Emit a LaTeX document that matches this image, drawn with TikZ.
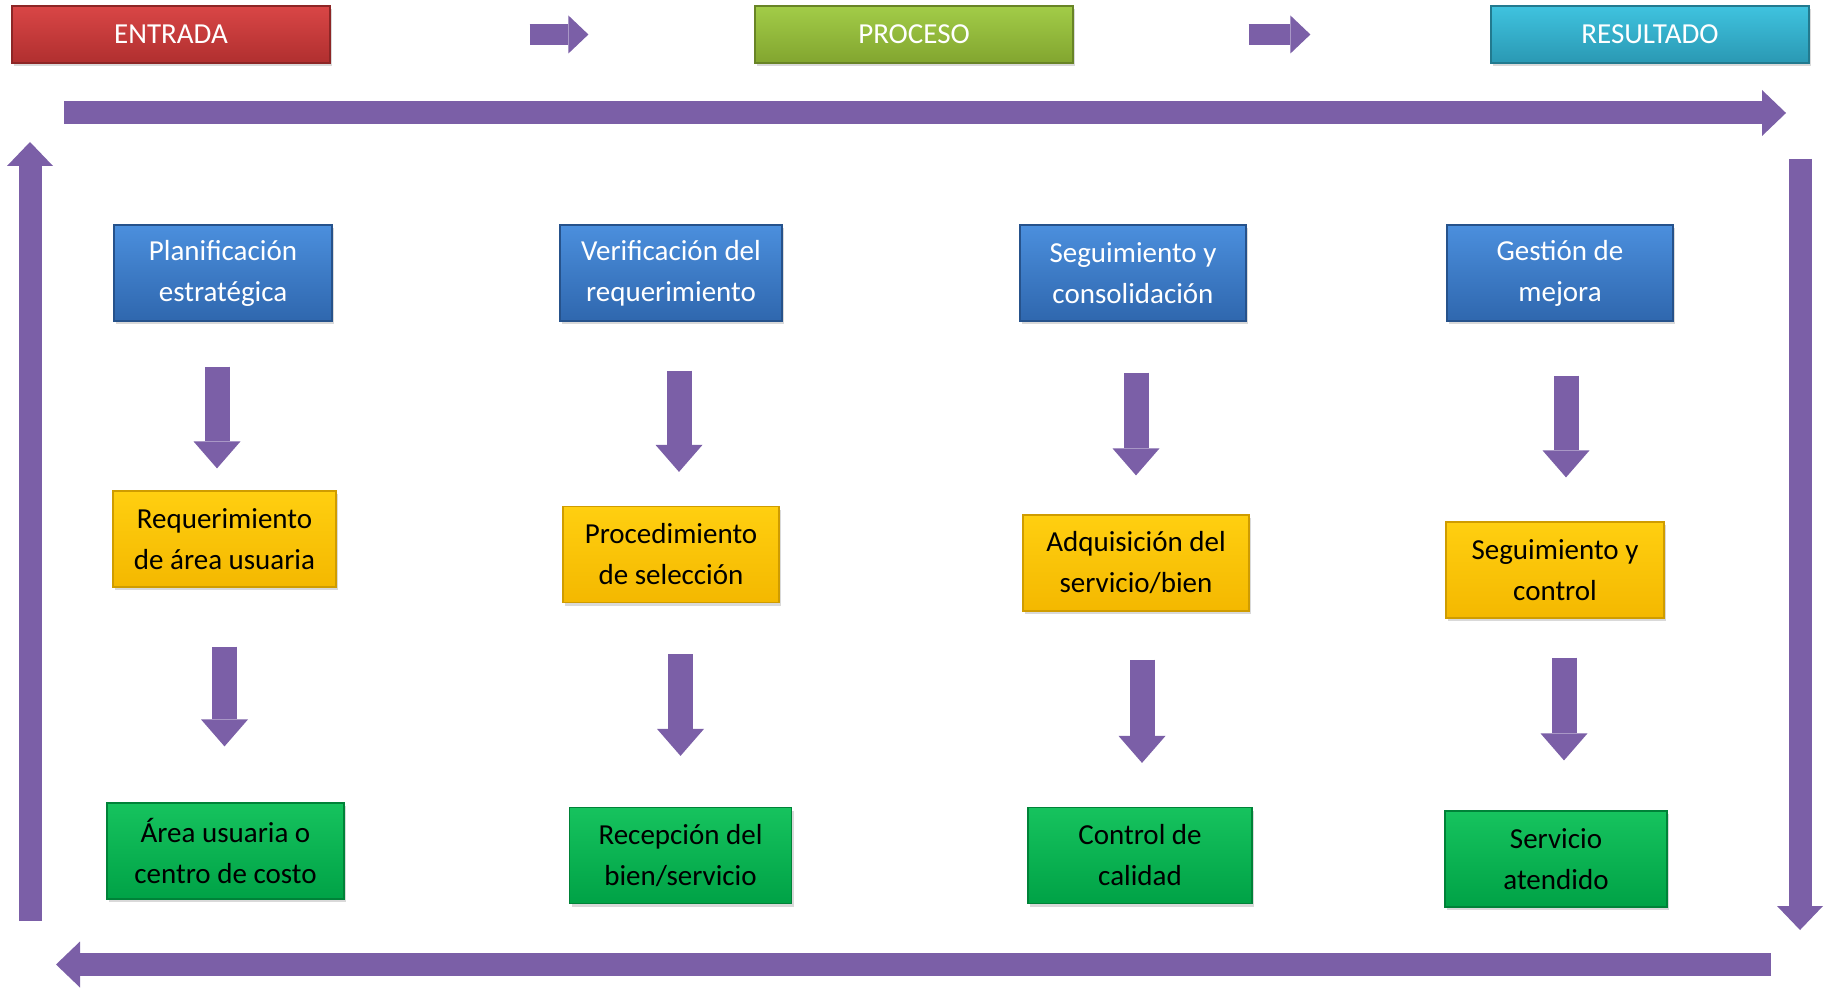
\documentclass[tikz,border=0pt]{standalone}
\usepackage{fontspec}
\setmainfont{Carlito}
\usetikzlibrary{arrows.meta, shadows}

\definecolor{arrowpurple}{HTML}{7B5FA7}
\definecolor{redtop}{HTML}{D94646}\definecolor{redbot}{HTML}{B02F2F}
\definecolor{olivetop}{HTML}{A2CC48}\definecolor{olivebot}{HTML}{82A52F}
\definecolor{cyantop}{HTML}{3FC3DF}\definecolor{cyanbot}{HTML}{2A98B3}
\definecolor{bluetop}{HTML}{4B8FDD}\definecolor{bluebot}{HTML}{2F67AE}
\definecolor{yellowtop}{HTML}{FFCF10}\definecolor{yellowbot}{HTML}{F4B800}
\definecolor{greentop}{HTML}{16C35E}\definecolor{greenbot}{HTML}{00A246}

\tikzstyle{box} = [rectangle, minimum width=111pt, minimum height=48pt, align=center, font=\fontsize{14.5pt}{20.5pt}\selectfont, line width=0.6pt, drop shadow={opacity=0.3, shadow xshift=1pt, shadow yshift=-1.5pt}]
\tikzstyle{header} = [box, minimum width=159pt, minimum height=28.5pt, text=white]
\tikzstyle{entrada} = [header, top color=redtop, bottom color=redbot, draw=redbot!80!black]
\tikzstyle{proceso} = [header, top color=olivetop, bottom color=olivebot, draw=olivebot!80!black]
\tikzstyle{resultado} = [header, top color=cyantop, bottom color=cyanbot, draw=cyanbot!80!black]
\tikzstyle{stage} = [box, top color=bluetop, bottom color=bluebot, draw=bluebot!80!black, text=white]
\tikzstyle{task} = [box, top color=yellowtop, bottom color=yellowbot, draw=yellowbot!85!black]
\tikzstyle{outcome} = [box, top color=greentop, bottom color=greenbot, draw=greenbot!80!black]
\tikzstyle{flow} = [line width=12.5pt, draw=arrowpurple, -{Triangle[width=23.5pt, length=13.5pt, line width=0pt]}]
\tikzstyle{cycle} = [line width=11.5pt, draw=arrowpurple, -{Triangle[width=23pt, length=12pt, line width=0pt]}]
\tikzstyle{link} = [line width=10.5pt, draw=arrowpurple, -{Triangle[width=19pt, length=10pt, line width=0pt]}]

\begin{document}
\begin{tikzpicture}[x=0.5pt, y=-0.5pt]
\useasboundingbox (0,0) rectangle (1824,994);

% cabecera
\node (entrada) [entrada] at (171,34.5) {ENTRADA};
\node (proceso) [proceso] at (914,34.5) {PROCESO};
\node (resultado) [resultado] at (1650,34.5) {RESULTADO};

% etapas
\node (plan) [stage, minimum width=109pt] at (223,273) {Planificación\\estratégica};
\node (verif) [stage] at (671,273) {Verificación del\\requerimiento};
\node (segcons) [stage, minimum width=113pt] at (1133,273) {Seguimiento y\\consolidación};
\node (gestion) [stage, minimum width=113pt] at (1560,273) {Gestión de\\mejora};

\node (reqarea) [task, minimum width=111.5pt] at (224.5,539) {Requerimiento\\de área usuaria};
\node (procsel) [task, minimum width=108pt] at (671,554.5) {Procedimiento\\de selección};
\node (adqserv) [task, minimum width=113pt] at (1136,563) {Adquisición del\\servicio/bien};
\node (segctrl) [task, minimum width=109pt] at (1555,570) {Seguimiento y\\control};

\node (areauser) [outcome, minimum width=118.5pt] at (225.5,851) {Área usuaria o\\centro de costo};
\node (recep) [outcome] at (680.5,855.5) {Recepción del\\bien/servicio};
\node (calidad) [outcome, minimum width=112pt] at (1140,855.5) {Control de\\calidad};
\node (servicio) [outcome] at (1556,859) {Servicio\\atendido};

% ciclo exterior
\coordinate (topL) at (64,113);
\coordinate (topR) at (1786,113);
\coordinate (rightT) at (1800,159);
\coordinate (rightB) at (1800,930);
\coordinate (botR) at (1771,964.5);
\coordinate (botL) at (56,964.5);
\coordinate (leftB) at (30,921);
\coordinate (leftT) at (30,142);

\draw [link, shorten <=99.5pt, shorten >=83pt] (entrada) -- (proceso);
\draw [link, shorten <=87.5pt, shorten >=90pt] (proceso) -- (resultado);

\draw [cycle] (topL) -- (topR);
\draw [cycle] (rightT) -- (rightB);
\draw [cycle] (botR) -- (botL);
\draw [cycle] (leftB) -- (leftT);

\draw [flow, shorten <=22.5pt, shorten >=11pt] ([xshift=-3pt]plan.south) -- ([xshift=-3pt]plan.south |- reqarea.north);
\draw [flow, shorten <=29.5pt, shorten >=28pt] (reqarea.south) -- (reqarea.south |- areauser.north);
\draw [flow, shorten <=24.5pt, shorten >=17pt] ([xshift=4pt]verif.south) -- ([xshift=4pt]verif.south |- procsel.north);
\draw [flow, shorten <=25.5pt, shorten >=25.5pt] (recep.north |- procsel.south) -- (recep.north);
\draw [flow, shorten <=25.5pt, shorten >=19.5pt] (adqserv.north |- segcons.south) -- (adqserv.north);
\draw [flow, shorten <=24pt, shorten >=22pt] ([xshift=1pt]calidad.north |- adqserv.south) -- ([xshift=1pt]calidad.north);
\draw [flow, shorten <=27pt, shorten >=22pt] ([xshift=3pt]gestion.south) -- ([xshift=3pt]gestion.south |- segctrl.north);
\draw [flow, shorten <=19.5pt, shorten >=25pt] ([xshift=4.5pt]segctrl.south) -- ([xshift=4.5pt]segctrl.south |- servicio.north);

\end{tikzpicture}
\end{document}
